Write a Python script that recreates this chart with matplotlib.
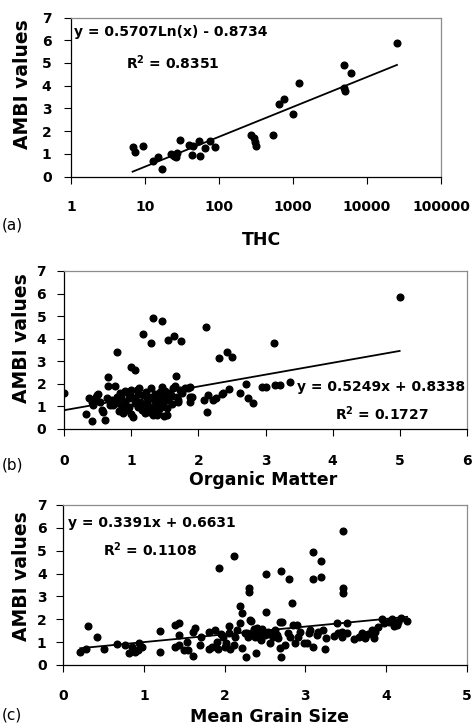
import matplotlib
matplotlib.use("Agg")
import matplotlib.pyplot as plt
import numpy as np

# ---------------- data ----------------
# (a) THC vs AMBI
thc_x = [6.8, 7.3, 9.5, 12.7, 14.8, 17.1, 22.5, 24.4, 26.2, 27, 30, 39.3, 44, 43.7,
         54, 56, 64, 74.8, 89, 270, 293, 303, 317, 542, 653, 764, 1009, 1205,
         4840, 4940, 5040, 6140, 25400]
thc_y = [1.29, 1.07, 1.36, 0.70, 0.88, 0.36, 1.01, 0.93, 0.88, 1.04, 1.60, 1.41, 1.33, 0.95,
         1.56, 0.92, 1.28, 1.56, 1.31, 1.85, 1.70, 1.51, 1.33, 1.85, 3.19, 3.42, 2.74, 4.13,
         4.93, 3.91, 3.78, 4.58, 5.87]
thc_coef = (0.5707, -0.8734)

# (b) Organic matter vs AMBI
om_x = [0.00, 0.645, 0.78, 0.645, 0.75, 1.00, 1.06, 1.18, 1.30, 1.33, 1.46, 1.55, 1.63, 1.74, 1.67,
        2.11, 2.31, 2.42, 2.50, 3.12, 5.00,
        1.88, 1.88, 1.88, 2.09, 2.15, 2.13, 2.21, 2.26, 2.35, 2.37, 2.45, 2.62, 2.71, 2.74, 2.81,
        2.95, 3.00, 3.14, 3.22, 3.36,
        0.33, 0.41, 0.60, 1.03, 1.49, 1.38,
        0.37, 0.41, 0.47, 0.49, 0.43, 0.56, 0.58, 0.63, 0.73, 0.78, 0.81, 0.83, 0.88, 0.91,
        0.93, 0.96, 0.98, 1.00, 1.06, 1.08, 1.12, 1.13, 1.16, 1.18, 1.22, 1.24, 1.27, 1.28,
        1.30, 1.33, 1.35, 1.38, 1.40, 1.43, 1.45, 1.47, 1.50, 1.53, 1.55, 1.58, 1.62, 1.65,
        1.68, 1.70, 1.73, 1.75, 1.80, 1.85, 1.90,
        0.53, 0.68, 0.71, 0.86, 0.96, 1.10, 1.20, 1.23, 1.33, 1.43, 1.53,
        0.45, 0.50, 0.85, 0.90, 1.00, 1.10, 1.15, 1.25, 1.35, 1.45, 1.60, 1.70, 0.80, 0.95,
        1.05, 1.40, 1.60, 1.50]
om_y = [1.58, 2.32, 3.42, 1.92, 1.92, 2.76, 2.61, 4.21, 3.79, 4.93, 4.79, 3.94, 4.12, 3.89, 2.36,
        4.53, 3.15, 3.39, 3.21, 3.79, 5.84,
        1.86, 1.43, 1.21, 1.30, 1.50, 0.77, 1.28, 1.36, 1.53, 1.61, 1.77, 1.59, 1.98, 1.36, 1.17,
        1.86, 1.86, 1.95, 1.97, 2.07,
        0.65, 0.35, 0.40, 0.52, 0.59, 0.62,
        1.36, 1.21, 1.43, 1.50, 1.06, 0.84, 0.74, 1.36, 1.06, 1.43, 0.80, 1.58, 0.69, 1.21,
        1.65, 0.99, 1.50, 0.65, 1.36, 1.73, 1.80, 1.21, 0.84, 1.50, 1.65, 1.14, 0.74, 1.36,
        1.80, 0.94, 1.53, 1.28, 0.77, 1.65, 1.87, 1.14, 1.42, 0.94, 1.28, 1.58, 1.80, 1.92,
        1.43, 1.21, 1.73, 1.58, 1.83, 1.80, 1.43,
        1.21, 1.06, 1.28, 0.99, 1.36, 0.99, 0.69, 1.36, 0.62, 0.91, 0.62,
        1.28, 1.55, 1.45, 1.70, 1.75, 1.55, 1.10, 1.00, 1.20, 1.40, 1.10, 1.30, 1.15, 0.85,
        1.15, 1.05, 1.45, 1.70]
om_coef = (0.5249, 0.8338)

# (c) Mean grain size vs AMBI
gs_x = [0.21, 0.28, 0.30, 0.42, 0.50, 0.66, 0.76, 0.81, 0.85, 0.89, 0.92, 0.94, 0.98,
        1.20, 1.20, 1.38, 1.43, 1.43, 1.38, 1.43, 1.49, 1.53, 1.55, 1.61, 1.61, 1.63, 1.69,
        1.71, 1.80, 1.81, 1.84, 1.88, 1.90, 1.92, 1.98, 2.00, 2.05, 2.02, 2.07, 2.11, 2.13,
        2.15, 2.19, 2.22, 2.19, 2.21, 2.25, 2.26, 2.29, 2.31, 2.33, 2.36, 2.38, 2.39, 2.42,
        2.44, 2.46, 2.50, 2.51, 2.54, 2.56, 2.60, 2.62, 2.66, 2.69, 2.69, 2.70, 2.71, 2.75,
        2.79, 2.81, 2.84, 2.85, 2.87, 2.89, 2.91, 2.93, 2.98, 3.02, 3.04, 3.06, 3.10, 3.14,
        3.16, 3.22, 3.24, 3.26, 3.39, 3.41, 3.45, 3.47, 3.51, 3.52, 3.60, 3.66, 3.70, 3.74,
        3.78, 3.82, 3.86, 3.90, 3.95, 3.97, 4.03, 4.07, 4.13, 4.15, 4.19, 4.26,
        1.93, 2.11, 2.30, 2.30, 2.51, 2.70, 2.80, 3.10, 3.19, 3.19, 3.09, 3.46, 3.46,
        2.35, 2.40, 2.55, 2.45, 2.28, 2.65, 1.95, 2.05, 3.35, 3.45, 3.85, 4.10]
gs_y = [0.58, 0.69, 1.72, 1.21, 0.69, 0.90, 0.87, 0.51, 0.80, 0.58, 0.66, 0.98, 0.80,
        1.50, 0.55, 1.75, 1.82, 1.31, 0.80, 0.87, 0.66, 1.02, 0.66, 0.39, 1.46, 1.60, 0.87,
        1.24, 1.46, 0.69, 0.80, 1.53, 1.02, 0.69, 1.24, 0.80, 1.71, 0.95, 0.69, 0.87, 1.24,
        1.53, 2.58, 2.29, 1.85, 0.73, 1.38, 0.34, 1.24, 1.97, 1.94, 1.56, 1.24, 0.51, 1.46,
        1.17, 1.56, 1.31, 2.33, 1.46, 0.95, 1.24, 1.53, 1.17, 1.90, 0.73, 0.34, 1.87, 0.87,
        1.38, 1.24, 2.73, 1.75, 0.95, 1.75, 1.24, 1.46, 0.95, 0.95, 1.38, 1.53, 0.80, 1.31,
        1.46, 1.53, 0.69, 1.17, 1.85, 1.38, 1.24, 3.13, 1.82, 1.41, 1.12, 1.24, 1.41, 1.17,
        1.36, 1.53, 1.46, 1.65, 2.00, 1.82, 1.90, 2.00, 1.75, 1.90, 2.04, 1.94,
        4.26, 4.77, 3.38, 3.21, 3.96, 4.11, 3.75, 4.93, 4.55, 3.86, 3.75, 5.86, 3.38,
        1.45, 1.60, 1.35, 1.10, 1.40, 1.30, 1.35, 1.40, 1.25, 1.45, 1.20, 1.70]
gs_coef = (0.3391, 0.6631)

W, H = 472, 727
fig = plt.figure(figsize=(W / 100, H / 100), dpi=100)

FONT = "DejaVu Sans"
TICK_FS = 10
LAB_FS = 12.5
EQ_FS = 10


def px_axes(l, r, t, b):
    return [l / W, 1 - b / H, (r - l) / W, (b - t) / H]


def style(ax, xpad, ypad):
    for s in ("top", "right"):
        ax.spines[s].set_color("#8c8c8c")
        ax.spines[s].set_linewidth(0.9)
    for s in ("left", "bottom"):
        ax.spines[s].set_color("black")
        ax.spines[s].set_linewidth(0.9)
    ax.tick_params(axis="x", direction="out", length=5, width=0.8, pad=xpad,
                   labelsize=TICK_FS, color="black")
    ax.tick_params(axis="y", direction="out", length=5, width=0.8, pad=ypad,
                   labelsize=TICK_FS, color="black")
    ax.tick_params(which="minor", length=0)
    for lab in ax.get_xticklabels() + ax.get_yticklabels():
        lab.set_fontweight("bold")
        lab.set_family(FONT)
    ax.set_ylim(0, 7)
    ax.set_yticks(range(0, 8))


def ylab(ax, ycenter_px, xcenter_px=23):
    fig.text(xcenter_px / W, 1 - ycenter_px / H, "AMBI values", rotation=90,
             ha="center", va="center", fontsize=LAB_FS + 1, fontweight="bold", family=FONT)


# ---------------- (a) ----------------
ax1 = fig.add_axes(px_axes(71, 441, 17.5, 176.7))
ax1.plot(thc_x, thc_y, "o", color="black", ms=4.8, mec="black")
xl = np.array(sorted(thc_x))
ax1.plot(xl, thc_coef[0] * np.log(xl) + thc_coef[1], color="black", lw=1.3)
ax1.set_xscale("log")
ax1.set_xlim(1, 100000)
ax1.set_xticks([1, 10, 100, 1000, 10000, 100000])
ax1.set_xticklabels(["1", "10", "100", "1000", "10000", "100000"])
style(ax1, 12, 9)
ax1.text(74 / W, 1 - 31.7 / H, "y = 0.5707Ln(x) - 0.8734", transform=fig.transFigure,
         ha="left", va="center", fontsize=EQ_FS, fontweight="bold", family=FONT)
ax1.text(126 / W, 1 - 63 / H, r"R$^{\mathbf{2}}$ = 0.8351", transform=fig.transFigure,
         ha="left", va="center", fontsize=EQ_FS, fontweight="bold", family=FONT)
ylab(ax1, 84)
fig.text(262 / W, 1 - 240 / H, "THC", ha="center", va="center", fontsize=LAB_FS,
         fontweight="bold", family=FONT)
fig.text(2 / W, 1 - 225 / H, "(a)", ha="left", va="center", fontsize=11, family=FONT)

# ---------------- (b) ----------------
ax2 = fig.add_axes(px_axes(64.3, 466.7, 271, 429))
ax2.plot(om_x, om_y, "o", color="black", ms=4.8, mec="black")
xb = np.array([min(om_x), max(om_x)])
ax2.plot(xb, om_coef[0] * xb + om_coef[1], color="black", lw=1.3)
ax2.set_xlim(0, 6)
ax2.set_xticks(range(0, 7))
style(ax2, 13, 8)
ax2.text(296.7 / W, 1 - 386.7 / H, "y = 0.5249x + 0.8338", transform=fig.transFigure,
         ha="left", va="center", fontsize=EQ_FS, fontweight="bold", family=FONT)
ax2.text(335 / W, 1 - 413.3 / H, r"R$^{\mathbf{2}}$ = 0.1727", transform=fig.transFigure,
         ha="left", va="center", fontsize=EQ_FS, fontweight="bold", family=FONT)
ylab(ax2, 338, 22)
fig.text(263 / W, 1 - 480 / H, "Organic Matter", ha="center", va="center", fontsize=LAB_FS,
         fontweight="bold", family=FONT)
fig.text(2 / W, 1 - 465 / H, "(b)", ha="left", va="center", fontsize=11, family=FONT)

# ---------------- (c) ----------------
ax3 = fig.add_axes(px_axes(63.3, 466.8, 505, 665))
ax3.plot(gs_x, gs_y, "o", color="black", ms=4.8, mec="black")
xc = np.array([min(gs_x), max(gs_x)])
ax3.plot(xc, gs_coef[0] * xc + gs_coef[1], color="black", lw=1.3)
ax3.set_xlim(0, 5)
ax3.set_xticks(range(0, 6))
style(ax3, 12, 7)
ax3.text(68 / W, 1 - 523.3 / H, "y = 0.3391x + 0.6631", transform=fig.transFigure,
         ha="left", va="center", fontsize=EQ_FS, fontweight="bold", family=FONT)
ax3.text(103 / W, 1 - 550 / H, r"R$^{\mathbf{2}}$ = 0.1108", transform=fig.transFigure,
         ha="left", va="center", fontsize=EQ_FS, fontweight="bold", family=FONT)
ylab(ax3, 576, 22)
fig.text(269 / W, 1 - 717 / H, "Mean Grain Size", ha="center", va="center", fontsize=LAB_FS,
         fontweight="bold", family=FONT)
fig.text(2 / W, 1 - 715 / H, "(c)", ha="left", va="center", fontsize=11, family=FONT)

plt.rcParams["mathtext.fontset"] = "dejavusans"
fig.savefig("out.png", dpi=100)
